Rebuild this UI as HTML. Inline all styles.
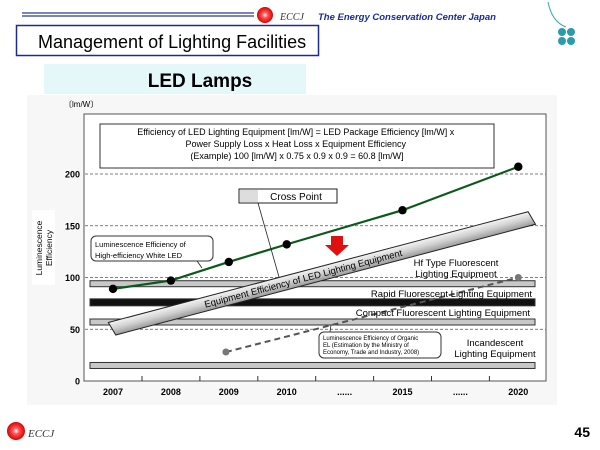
<!DOCTYPE html>
<html><head><meta charset="utf-8"><style>
body{margin:0;width:600px;height:450px;overflow:hidden;background:#fff;font-family:"Liberation Sans",sans-serif}
svg{display:block}
</style></head><body>
<svg width="600" height="450" xmlns="http://www.w3.org/2000/svg" font-family="Liberation Sans, sans-serif">
<defs>
<linearGradient id="tube" x1="0" y1="0" x2="0" y2="1"><stop offset="0" stop-color="#f4f4f4"/><stop offset="0.5" stop-color="#d0d0d0"/><stop offset="1" stop-color="#9a9a9a"/></linearGradient>
<radialGradient id="logo" cx="0.5" cy="0.5" r="0.5"><stop offset="0" stop-color="#fff"/><stop offset="0.35" stop-color="#f55"/><stop offset="1" stop-color="#d00"/></radialGradient>
</defs>
<g>
<line x1="22" y1="13" x2="254" y2="13" stroke="#2a3a9a" stroke-width="1.2"/>
<line x1="22" y1="16" x2="254" y2="16" stroke="#2a3a9a" stroke-width="1.2"/>
<circle cx="265" cy="15" r="8" fill="url(#logo)"/>
<text x="280" y="20" font-family="Liberation Serif, serif" font-style="italic" font-size="10" fill="#333">ECCJ</text>
<text x="318" y="20" font-size="9.5" font-weight="bold" font-style="italic" fill="#1a2a9a">The Energy Conservation Center Japan</text>
<path d="M548 2 Q552 22 566 27" stroke="#3aa" fill="none"/>
<g fill="#2a9ab0"><circle cx="562" cy="32" r="4"/><circle cx="571" cy="32" r="4"/><circle cx="562" cy="41" r="4"/><circle cx="571" cy="41" r="4"/></g>
</g>
<rect x="16.5" y="25.5" width="302" height="30" fill="#fff" stroke="#1a2a9a" stroke-width="1.5"/>
<text x="38" y="48" font-size="18" fill="#000">Management of Lighting Facilities</text>
<rect x="44" y="64" width="262" height="30" fill="#e4f8fa"/>
<text x="200" y="87" font-size="19" font-weight="bold" text-anchor="middle">LED Lamps</text>
<rect x="27" y="95" width="530" height="310" fill="#f7f7f7"/>
<text x="64" y="107" font-size="8" fill="#000">〔lm/W〕</text>
<rect x="84" y="114" width="462" height="267" fill="#fff" stroke="#555" stroke-width="1"/>
<g>
<rect x="32" y="210" width="23" height="75" fill="#fff"/>
<text transform="translate(42,248) rotate(-90)" font-size="8.5" text-anchor="middle">Luminescence</text>
<text transform="translate(52,248) rotate(-90)" font-size="8.5" text-anchor="middle">Efficiency</text>
</g>
<g id="chart"></g>
<rect x="100" y="124" width="394" height="44" fill="#fff" stroke="#333"/>
<text font-size="9" text-anchor="middle">
<tspan x="297" y="135">Efficiency of LED Lighting Equipment [lm/W] = LED Package Efficiency [lm/W] x</tspan>
<tspan x="297" y="147">Power Supply Loss x Heat Loss x Equipment Efficiency</tspan>
<tspan x="297" y="159">(Example) 100 [lm/W] x 0.75 x 0.9 x 0.9 = 60.8 [lm/W]</tspan>
</text>
<text x="590" y="437" font-size="14" font-weight="bold" text-anchor="end">45</text>
<circle cx="16" cy="431" r="9" fill="url(#logo)"/>
<text x="28" y="437" font-family="Liberation Serif, serif" font-style="italic" font-size="11" fill="#333">ECCJ</text>
<g id="annot" font-size="9">
<line x1="258" y1="203" x2="279" y2="277" stroke="#222" stroke-width="0.8"/>
<rect x="239" y="189" width="98" height="14" fill="#fff" stroke="#222"/>
<rect x="240" y="190" width="18" height="12" fill="#ddd"/>
<text x="296" y="200" font-size="10" text-anchor="middle">Cross Point</text>
<line x1="195" y1="258" x2="202" y2="268" stroke="#222" stroke-width="0.8"/>
<rect x="91" y="236" width="122" height="25" rx="5" fill="#fff" stroke="#333"/>
<text x="95" y="247" font-size="7.5">Luminescence Efficiency of</text>
<text x="95" y="258" font-size="7.5">High-efficiency White LED</text>
<path d="M331 236 H343 V245 H349 L337 256 L325 245 H331 Z" fill="#e01010"/>
<text x="456" y="266" text-anchor="middle" font-size="9.5">Hf Type Fluorescent</text>
<text x="456" y="277" text-anchor="middle" font-size="9.5">Lighting Equipment</text>
<text x="532" y="297" text-anchor="end" font-size="9.5">Rapid Fluorescent Lighting Equipment</text>
<text x="530" y="316" text-anchor="end" font-size="9.5">Compact Fluorescent Lighting Equipment</text>
<rect x="450" y="338" width="88" height="22" fill="#fff"/>
<text x="495" y="346" text-anchor="middle" font-size="9.5">Incandescent</text>
<text x="495" y="357" text-anchor="middle" font-size="9.5">Lighting Equipment</text>
<line x1="330" y1="332" x2="331" y2="325" stroke="#222" stroke-width="0.8"/>
<rect x="319" y="332" width="122" height="26" rx="5" fill="#fff" stroke="#333"/>
<text x="323" y="340" font-size="6">Luminescence Efficiency of Organic</text>
<text x="323" y="347" font-size="6">EL (Estimation by the Ministry of</text>
<text x="323" y="354" font-size="6">Economy, Trade and Industry, 2008)</text>
</g>
</svg>
<script>
const categories=["2007","2008","2009","2010","......","2015","......","2020"];
const yTicks=[0,50,100,150,200];
const ledIdx=[0,1,2,3,5,7];
const ledValues=[89,97,115,132,165,207];
const oledIdx=[1.95,7];
const oledValues=[28,100];
const refNames=["Hf Type Fluorescent","Rapid Fluorescent","Compact Fluorescent","Incandescent"];
const refValues=[94,76,57,15];
const equipStart=[-0.05,50];
const equipEnd=[7.2,157];
const NS="http://www.w3.org/2000/svg";
const g=document.getElementById('chart');
const Y0=381,YK=1.035;
function xs(i){return 113+i*57.9;}
function ys(v){return Y0-v*YK;}
function mk(t,a,p){const e=document.createElementNS(NS,t);for(const k in a)e.setAttribute(k,a[k]);(p||g).appendChild(e);return e;}
yTicks.forEach(v=>{
 if(v>0){const l=mk('line',{x1:85,x2:546,y1:ys(v),y2:ys(v),stroke:'#555','stroke-dasharray':'3,2','stroke-width':0.8});
 
 }
 const t=mk('text',{x:80,y:ys(v)+3.5,'font-size':9,'font-weight':'bold','text-anchor':'end'});t.textContent=v;
 
 
});
categories.forEach((c,i)=>{
 const t=mk('text',{x:xs(i),y:395,'font-size':9,'font-weight':'bold','text-anchor':'middle'});t.textContent=c;
 
 
 if(i<categories.length-1){mk('line',{x1:xs(i)+29,x2:xs(i)+29,y1:376,y2:381,stroke:'#333'});}
});
refValues.forEach((v,i)=>{
 const h=i==1?7:6;
 const r=mk('rect',{x:90,y:ys(v)-h/2,width:445,height:h,fill:i==1?'#111':'#c8c8c8',stroke:'#333','stroke-width':1});
 
 
});
const ol=mk('line',{x1:xs(oledIdx[0]),y1:ys(oledValues[0]),x2:xs(oledIdx[1]),y2:ys(oledValues[1]),stroke:'#555','stroke-width':2,'stroke-dasharray':'6,4'});


oledIdx.forEach((i,k)=>{const c=mk('circle',{cx:xs(i),cy:ys(oledValues[k]),r:3.5,fill:'#777'});
 
 });
const ex1=xs(equipStart[0]),ey1=ys(equipStart[1]),ex2=xs(equipEnd[0]),ey2=ys(equipEnd[1]);
const ang=Math.atan2(ey2-ey1,ex2-ex1)*180/Math.PI,len=Math.hypot(ex2-ex1,ey2-ey1);
const tg=mk('g',{transform:'translate('+ex1+','+ey1+') rotate('+ang+')'});


mk('path',{d:'M0 -7 L'+len+' -7 L'+(len+4)+' 7 L4 7 Z',fill:'url(#tube)',stroke:'#222','stroke-width':1},tg);
const tt=mk('text',{x:len*0.46,y:3.5,'font-size':9.5,'text-anchor':'middle'},tg);tt.textContent='Equipment Efficiency of LED Lighting Equipment';
const pl=mk('polyline',{points:ledIdx.map((i,k)=>xs(i)+','+ys(ledValues[k])).join(' '),fill:'none',stroke:'#0b5a1a','stroke-width':2.2});


ledIdx.forEach((i,k)=>{const c=mk('circle',{cx:xs(i),cy:ys(ledValues[k]),r:4.2,fill:'#000'});
 
 });
</script>
</body></html>
